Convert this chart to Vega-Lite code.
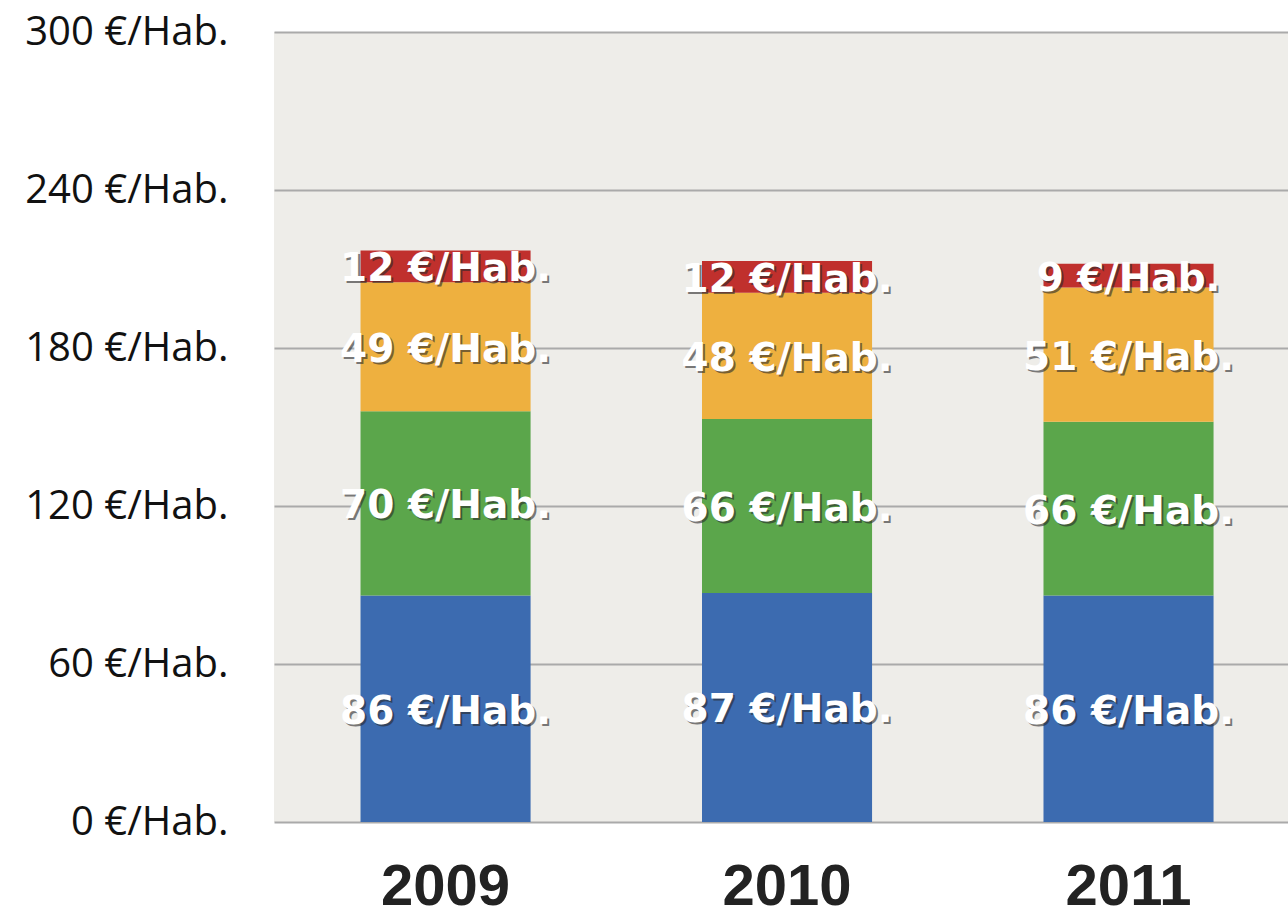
{
  "$schema": "https://vega.github.io/schema/vega-lite/v6.json",
  "width": 1014,
  "height": 790,
  "autosize": {"type": "none"},
  "padding": {"left": 274, "top": 32, "right": 0, "bottom": 98},
  "background": "white",
  "view": {"fill": "#eeede9", "stroke": null},
  "data": {
    "values": [
      {"year": "2009", "k": 1, "value": 86},
      {"year": "2009", "k": 2, "value": 70},
      {"year": "2009", "k": 3, "value": 49},
      {"year": "2009", "k": 4, "value": 12},
      {"year": "2010", "k": 1, "value": 87},
      {"year": "2010", "k": 2, "value": 66},
      {"year": "2010", "k": 3, "value": 48},
      {"year": "2010", "k": 4, "value": 12},
      {"year": "2011", "k": 1, "value": 86},
      {"year": "2011", "k": 2, "value": 66},
      {"year": "2011", "k": 3, "value": 51},
      {"year": "2011", "k": 4, "value": 9}
    ]
  },
  "transform": [
    {"stack": "value", "groupby": ["year"], "sort": [{"field": "k", "order": "ascending"}], "as": ["v0", "v1"]},
    {"calculate": "(datum.v0 + datum.v1) / 2", "as": "mid"},
    {"calculate": "datum.value + ' €/Hab.'", "as": "label"}
  ],
  "encoding": {
    "x": {
      "field": "year",
      "type": "nominal",
      "scale": {"paddingInner": 0.502, "paddingOuter": 0.2357, "align": 0.5375},
      "axis": {
        "title": null,
        "labelAngle": 0,
        "labelFont": "Liberation Sans",
        "labelFontWeight": "bold",
        "labelFontSize": 58,
        "labelColor": "#222222",
        "labelPadding": 36,
        "labelLimit": 0,
        "ticks": false,
        "domain": false,
        "grid": false
      }
    }
  },
  "layer": [
    {
      "mark": {"type": "bar"},
      "encoding": {
        "y": {
          "field": "v1",
          "type": "quantitative",
          "scale": {"domain": [0, 300], "nice": false},
          "axis": {
            "title": null,
            "values": [0, 60, 120, 180, 240, 300],
            "labelExpr": "datum.value + ' €/Hab.'",
            "labelFont": "Open Sans",
            "labelFontSize": 40,
            "labelColor": "#111111",
            "labelPadding": 46,
            "labelLimit": 0,
            "ticks": false,
            "domain": false,
            "grid": true,
            "gridColor": "#aaaaaa",
            "gridWidth": 2
          }
        },
        "y2": {"field": "v0"},
        "color": {
          "field": "k",
          "type": "nominal",
          "scale": {"domain": [1, 2, 3, 4], "range": ["#3c6bb0", "#5ba64b", "#eeb03f", "#c0302d"]},
          "legend": null
        }
      }
    },
    {
      "mark": {"type": "text", "color": "#2a2a2a", "opacity": 0.6, "dx": 2, "dy": 5, "font": "DejaVu Sans", "fontWeight": "bold", "fontSize": 39, "baseline": "middle", "align": "center"},
      "encoding": {
        "y": {"field": "mid", "type": "quantitative"},
        "text": {"field": "label"}
      }
    },
    {
      "mark": {"type": "text", "color": "white", "dx": 0, "dy": 3, "font": "DejaVu Sans", "fontWeight": "bold", "fontSize": 39, "baseline": "middle", "align": "center"},
      "encoding": {
        "y": {"field": "mid", "type": "quantitative"},
        "text": {"field": "label"}
      }
    }
  ]
}
